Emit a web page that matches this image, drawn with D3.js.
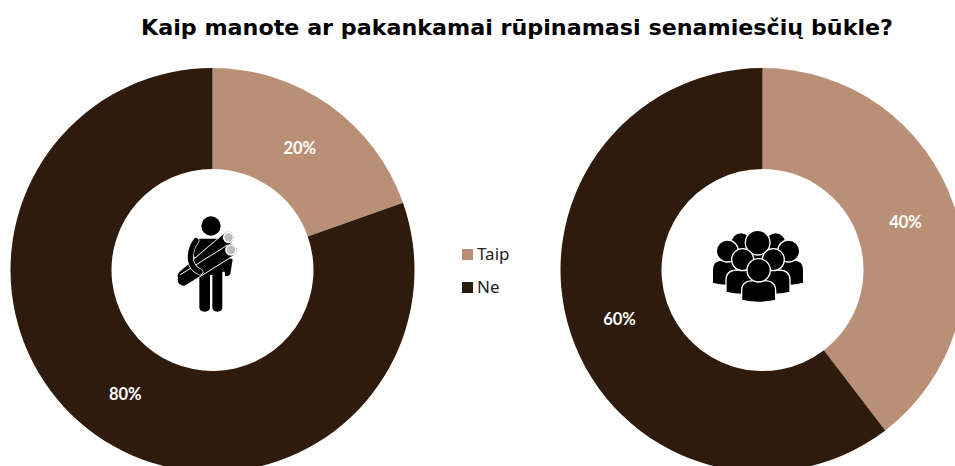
<!DOCTYPE html>
<html><head><meta charset="utf-8">
<script src="https://cdnjs.cloudflare.com/ajax/libs/d3/7.8.5/d3.min.js"></script>
<style>html,body{margin:0;padding:0;background:#fff;overflow:hidden}svg{display:block}</style>
</head><body><svg id="c" width="955" height="466"></svg>
<script>
const titleText = "Kaip manote ar pakankamai rūpinamasi senamiesčių būkle?";
const categories = ["Taip", "Ne"];
const valuesLeft = [19.6, 80.4];
const valuesRight = [39.6, 60.4];
const colors = ["#b99076", "#2f1b0c"];

const svg = d3.select("#c");
const color = d3.scaleOrdinal().domain(categories).range(colors);
const pie = d3.pie().sort(null);
const arc = d3.arc().innerRadius(101).outerRadius(202);
const labelArc = d3.arc().innerRadius(151).outerRadius(151);
const pct = d3.format(".0f");

svg.append("text").attr("x", 141).attr("y", 35)
  .attr("font-family", "DejaVu Sans").attr("font-weight", "bold").attr("font-size", 21)
  .attr("textLength", 752).attr("lengthAdjust", "spacingAndGlyphs")
  .attr("fill", "#000").text(titleText);

function donut(cx, cy, values) {
  const g = svg.append("g").attr("transform", `translate(${cx},${cy})`);
  const arcs = pie(values);
  g.selectAll("path").data(arcs).join("path")
    .attr("d", arc).attr("fill", (d, i) => color(categories[i]));
  g.selectAll("text").data(arcs).join("text")
    .attr("transform", d => `translate(${labelArc.centroid(d)})`)
    .attr("text-anchor", "middle").attr("dy", "0.42em")
    .attr("font-family", "Lato").attr("font-weight", "bold").attr("font-size", 16.5)
    .attr("fill", "#fff").text(d => pct(d.data) + "%");
}
donut(212.5, 270, valuesLeft);
donut(762.5, 270, valuesRight);

// legend
const legend = svg.append("g");
const rows = legend.selectAll("g").data(categories).join("g")
  .attr("transform", (d, i) => `translate(462,${249 + i * 33})`);
rows.append("rect").attr("width", 11).attr("height", 11).attr("fill", d => color(d));
rows.append("text").attr("x", 15).attr("y", 11)
  .attr("font-family", "Noto Sans").attr("font-size", 17).attr("fill", "#222").text(d => d);

// worker pictogram (drawn in a 3x local grid)
const w = svg.append("g").attr("transform", "translate(150,200) scale(0.3333)");
w.append("circle").attr("cx", 183).attr("cy", 78).attr("r", 29);
w.append("path").attr("d", "M150,116 H205 Q222,116 228,135 L226,215 L217,215 V322 Q217,335 202,335 Q187,335 187,322 V225 H180 V322 Q180,335 164,335 Q148,335 148,322 V210 L125,150 Q135,116 150,116 Z");
w.append("path").attr("d", "M226,170 L248,178 L241,222 Q235,232 225,228 L222,180 Z");
function tube(x1, y1, x2, y2, cw) {
  w.append("line").attr("x1", x1).attr("y1", y1).attr("x2", x2).attr("y2", y2)
    .attr("stroke", "#fff").attr("stroke-width", cw + 5).attr("stroke-linecap", "butt");
  w.append("line").attr("x1", x1).attr("y1", y1).attr("x2", x2).attr("y2", y2)
    .attr("stroke", "#000").attr("stroke-width", cw).attr("stroke-linecap", "round");
  w.append("circle").attr("cx", x2).attr("cy", y2).attr("r", cw / 2 - 2)
    .attr("fill", "#bbb").attr("stroke", "#fff").attr("stroke-width", 5);
}
tube(100, 228, 236, 112, 34);
tube(100, 240, 243, 150, 34);
const armPath = "M138,122 Q118,150 122,182 Q126,205 150,216";
w.append("path").attr("d", armPath).attr("fill", "none").attr("stroke", "#fff").attr("stroke-width", 20).attr("stroke-linecap", "round");
w.append("path").attr("d", armPath).attr("fill", "none").attr("stroke", "#000").attr("stroke-width", 16).attr("stroke-linecap", "round");

// crowd pictogram (drawn in a 3x local grid)
const crowd = svg.append("g").attr("transform", "translate(695,215) scale(0.3333)");
function personIcon(x, hy, r, top, bottom, half) {
  crowd.append("path")
    .attr("d", `M${x - half},${bottom} V${top + half * 0.6} Q${x - half},${top} ${x - half * 0.3},${top} H${x + half * 0.3} Q${x + half},${top} ${x + half},${top + half * 0.6} V${bottom} Q${x},${bottom + 12} ${x - half},${bottom} Z`)
    .attr("fill", "#000").attr("stroke", "#fff").attr("stroke-width", 4);
  crowd.append("circle").attr("cx", x).attr("cy", hy).attr("r", r)
    .attr("fill", "#000").attr("stroke", "#fff").attr("stroke-width", 4);
}
personIcon(138, 84, 31, 105, 195, 35);
personIcon(242, 84, 31, 105, 195, 35);
personIcon(188, 83, 37, 110, 195, 40);
personIcon(97, 108, 33, 135, 205, 45);
personIcon(281, 108, 33, 135, 205, 45);
personIcon(143, 134, 33, 165, 232, 50);
personIcon(235, 134, 33, 165, 232, 50);
personIcon(191, 166, 35, 197, 256, 51);
</script></body></html>
